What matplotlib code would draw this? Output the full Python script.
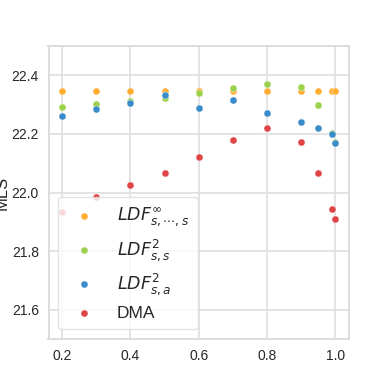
import matplotlib
matplotlib.use("Agg")
from matplotlib import pyplot as plt
import seaborn as sns

sns.set_style("whitegrid")
plt.rcParams['font.family'] = ['Liberation Sans', 'DejaVu Sans']

# sparsity levels
x = [0.2, 0.3, 0.4, 0.5, 0.6, 0.7, 0.8, 0.9, 0.95, 0.99, 1.0]

ldf_inf = [22.347, 22.347, 22.347, 22.347, 22.347, 22.347, 22.347, 22.347, 22.347, 22.347, 22.347]
ldf_ss = [22.293, 22.302, 22.313, 22.324, 22.339, 22.355, 22.371, 22.360, 22.300, 22.202, 22.172]
ldf_sa = [22.260, 22.284, 22.305, 22.333, 22.288, 22.316, 22.270, 22.239, 22.221, 22.198, 22.168]
dma = [21.935, 21.984, 22.025, 22.068, 22.122, 22.180, 22.221, 22.174, 22.068, 21.945, 21.911]

labels = [r'$LDF^{\infty}_{s,\cdots,s}$', r'$LDF^2_{s,s}$', r'$LDF^2_{s,a}$', 'DMA']
colors = ['#ffad33', '#9bd14d', '#3a8cc8', '#e04444']

fig, ax = plt.subplots(figsize=(3.88, 3.88), dpi=100)
fig.subplots_adjust(left=0.125, right=0.8995, top=0.8814, bottom=0.1263)

for ys, lab, c in zip([ldf_inf, ldf_ss, ldf_sa, dma], labels, colors):
    ax.scatter(x, ys, s=26, color=c, label=lab, edgecolors='white', linewidths=0.3)

ax.set_ylim(21.5, 22.5)
ax.set_xticks([0.2, 0.4, 0.6, 0.8, 1.0])
ax.set_yticks([21.6, 21.8, 22.0, 22.2, 22.4])
ax.tick_params(labelsize=10, colors='#262626')
ax.grid(color='#e0e0e0', linewidth=1.3)
ax.set_ylabel('MLS', fontsize=12)
ax.yaxis.set_label_coords(-0.13, 0.5)
for s in ax.spines.values():
    s.set_color('#dcdcdc')
    s.set_linewidth(1.4)

ax.legend(loc='lower left', fontsize=12.5, handletextpad=0.9, borderaxespad=0.55,
          borderpad=0.5, edgecolor='#dddddd')

fig.savefig('out.png', dpi=100)
